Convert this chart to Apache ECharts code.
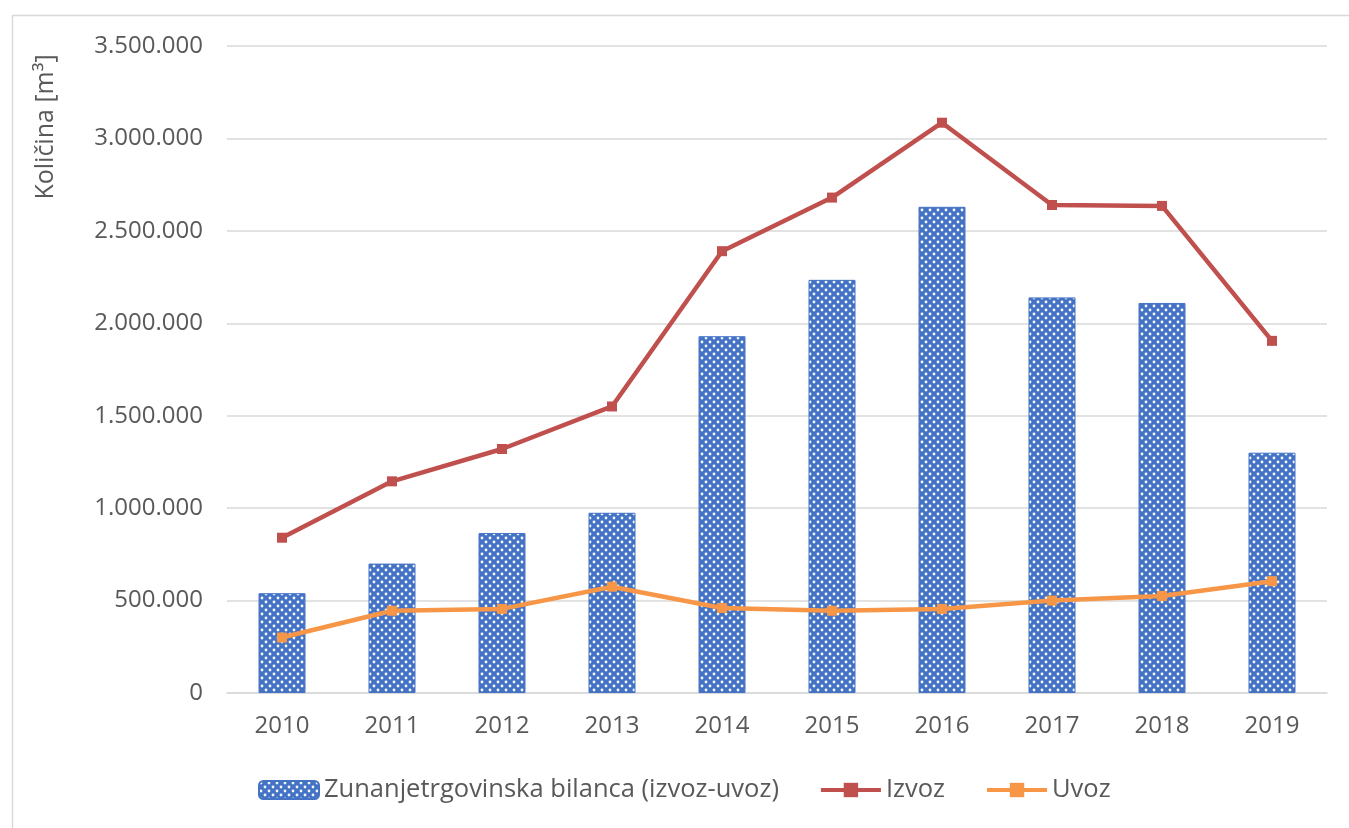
<!DOCTYPE html>
<html>
<head>
<meta charset="utf-8">
<script src="https://cdn.jsdelivr.net/npm/echarts@6/dist/echarts.min.js"></script>
<style>
html, body { margin: 0; padding: 0; background: #fff; }
#chart { width: 1349px; height: 828px; }
</style>
</head>
<body>
<div id="chart"></div>
<script>
var years = ['2010', '2011', '2012', '2013', '2014', '2015', '2016', '2017', '2018', '2019'];
var bilanca = [540000, 700000, 865000, 975000, 1930000, 2235000, 2630000, 2140000, 2110000, 1300000];
var izvoz = [840000, 1145000, 1320000, 1550000, 2390000, 2680000, 3085000, 2640000, 2635000, 1905000];
var uvoz = [300000, 445000, 455000, 575000, 460000, 445000, 455000, 500000, 525000, 605000];

// dotted fill for the bars
function dots() {
	var c = document.createElement('canvas');
	c.width = 8; c.height = 8;
	var g = c.getContext('2d');
	g.fillStyle = '#4472c4';
	g.fillRect(0, 0, 8, 8);
	g.fillStyle = 'rgba(255,255,255,0.95)';
	g.beginPath(); g.arc(2, 2, 1.4, 0, Math.PI * 2); g.fill();
	g.beginPath(); g.arc(6, 6, 1.4, 0, Math.PI * 2); g.fill();
	return c;
}

function fmt(v) {
	return String(v).replace(/\B(?=(\d{3})+(?!\d))/g, '.');
}

var font = '"Open Sans", "Noto Sans", sans-serif';
var chart = echarts.init(document.getElementById('chart'));
chart.setOption({
	backgroundColor: '#fff',
	textStyle: { fontFamily: font, color: '#595959' },
	graphic: [
		{
			type: 'rect', left: 10, top: 13, silent: true,
			shape: { width: 1400, height: 900 },
			style: { fill: 'none', stroke: '#d9d9d9', lineWidth: 1.5 }
		},
		{
			type: 'text', x: 46, y: 127, rotation: Math.PI / 2,
			style: {
				text: 'Količina [m³]', font: '25px ' + font, fill: '#595959',
				textAlign: 'center', textVerticalAlign: 'middle'
			}
		}
	],
	grid: { left: 227, right: 22, top: 46, bottom: 135 },
	legend: {
		left: 253, top: 772,
		itemWidth: 60, itemHeight: 18, itemGap: 40,
		textStyle: { fontSize: 25.5, color: '#595959', fontFamily: font },
		data: [
			'Zunanjetrgovinska bilanca (izvoz-uvoz)',
			{ name: 'Izvoz', lineStyle: { width: 4 }, itemStyle: { borderWidth: 0 } },
			{ name: 'Uvoz', lineStyle: { width: 4 }, itemStyle: { borderWidth: 0 } }
		]
	},
	xAxis: {
		type: 'category',
		data: years,
		axisLine: { lineStyle: { color: '#d9d9d9', width: 1.5 } },
		axisTick: { show: false },
		axisLabel: { fontSize: 24, color: '#595959', margin: 21 }
	},
	yAxis: {
		type: 'value',
		min: 0, max: 3500000, interval: 500000,
		axisLine: { show: false },
		axisTick: { show: false },
		splitLine: { lineStyle: { color: '#d9d9d9', width: 1.5 } },
		axisLabel: { fontSize: 24, color: '#595959', margin: 24, formatter: fmt }
	},
	series: [
		{
			name: 'Zunanjetrgovinska bilanca (izvoz-uvoz)',
			type: 'bar',
			barWidth: 47,
			data: bilanca,
			itemStyle: { color: { image: dots(), repeat: 'repeat' }, borderColor: '#4472c4', borderWidth: 1 }
		},
		{
			name: 'Izvoz',
			type: 'line',
			data: izvoz,
			symbol: 'rect', symbolSize: 10,
			lineStyle: { color: '#c0504d', width: 4.5 },
			itemStyle: { color: '#c0504d' }
		},
		{
			name: 'Uvoz',
			type: 'line',
			data: uvoz,
			symbol: 'rect', symbolSize: 10,
			lineStyle: { color: '#f79646', width: 4.5 },
			itemStyle: { color: '#f79646' }
		}
	]
});
</script>
</body>
</html>
